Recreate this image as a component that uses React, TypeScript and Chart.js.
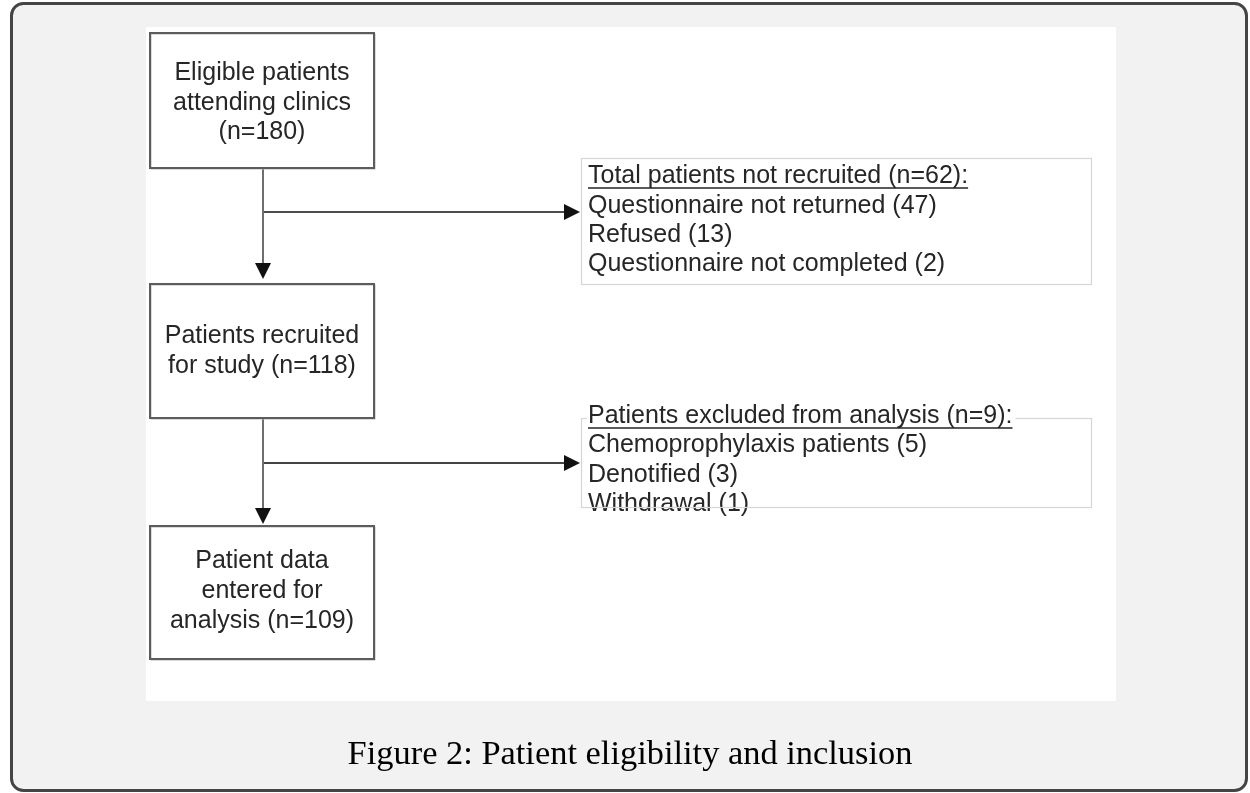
import React, { useEffect, useRef } from "react";
import { Chart, registerables } from "chart.js";

Chart.register(...registerables);

// ---------------- data ----------------
const stageLines: string[][] = [
  ["Eligible patients", "attending clinics", "(n={n})"],
  ["Patients recruited", "for study (n={n})"],
  ["Patient data", "entered for", "analysis (n={n})"],
];
const stageCounts = [180, 118, 109];
const exclusionTitles = ["Total patients not recruited", "Patients excluded from analysis"];
const exclusionTotals = [62, 9];
const notRecruitedReasons = ["Questionnaire not returned", "Refused", "Questionnaire not completed"];
const notRecruitedCounts = [47, 13, 2];
const excludedReasons = ["Chemoprophylaxis patients", "Denotified", "Withdrawal"];
const excludedCounts = [5, 3, 1];
const figureCaption = "Figure 2: Patient eligibility and inclusion";

// ---------------- layout (page units) ----------------
const W = 1250;
const H = 793;
const frame = { x0: 11.5, y0: 3.5, x1: 1246.5, y1: 790.5, r: 12 };
const panel = { x0: 146, y0: 27, x1: 1116, y1: 701 };
const stageBoxes = [
  { x0: 150, y0: 33, x1: 374, y1: 168, baselines: [80, 110, 139] },
  { x0: 150, y0: 284, x1: 374, y1: 418, baselines: [343, 373] },
  { x0: 150, y0: 526, x1: 374, y1: 659, baselines: [568, 598, 628] },
];
const sideBoxes = [
  { x0: 581, y0: 158, x1: 1091, y1: 284, textX: 588, baselines: [183, 213, 242, 271] },
  { x0: 581, y0: 418, x1: 1091, y1: 507, textX: 588, baselines: [423, 452, 482, 511] },
];
const spineX = 263;
const branchYs = [212, 463];
const downTips = [279, 524];
const rightTipX = 580;
const headLen = 16;
const headHalf = 8;
const caption = { cx: 630, baseline: 764, width: 565 };

const sideLines = [
  [`${exclusionTitles[0]} (n=${exclusionTotals[0]}):`, ...notRecruitedReasons.map((r, i) => `${r} (${notRecruitedCounts[i]})`)],
  [`${exclusionTitles[1]} (n=${exclusionTotals[1]}):`, ...excludedReasons.map((r, i) => `${r} (${excludedCounts[i]})`)],
];

const connectors = [
  { pts: [{ x: spineX, y: stageBoxes[0].y1 }, { x: spineX, y: downTips[0] - headLen + 1 }], color: "#6e6e6e", width: 2 },
  { pts: [{ x: spineX, y: branchYs[0] }, { x: rightTipX - headLen + 1, y: branchYs[0] }], color: "#111111", width: 1.6 },
  { pts: [{ x: spineX, y: stageBoxes[1].y1 }, { x: spineX, y: downTips[1] - headLen + 1 }], color: "#6e6e6e", width: 2 },
  { pts: [{ x: spineX, y: branchYs[1] }, { x: rightTipX - headLen + 1, y: branchYs[1] }], color: "#444444", width: 2 },
];

const TEXT_FONT = '25px "Liberation Sans", Arial, sans-serif';
const TEXT_COLOR = "#262626";

const flowPlugin = {
  id: "flow",
  beforeDraw(chart: any) {
    const { ctx, scales } = chart;
    const X = (v: number) => scales.x.getPixelForValue(v);
    const Y = (v: number) => scales.y.getPixelForValue(v);
    ctx.save();
    ctx.fillStyle = "#ffffff";
    ctx.fillRect(0, 0, chart.width, chart.height);
    ctx.beginPath();
    ctx.roundRect(X(frame.x0), Y(frame.y0), X(frame.x1) - X(frame.x0), Y(frame.y1) - Y(frame.y0), frame.r);
    ctx.fillStyle = "#f2f2f2";
    ctx.fill();
    ctx.lineWidth = 3;
    ctx.strokeStyle = "#454545";
    ctx.stroke();
    ctx.fillStyle = "#ffffff";
    ctx.fillRect(X(panel.x0), Y(panel.y0), X(panel.x1) - X(panel.x0), Y(panel.y1) - Y(panel.y0));
    ctx.restore();
  },
  afterDatasetsDraw(chart: any) {
    const { ctx, scales } = chart;
    const X = (v: number) => scales.x.getPixelForValue(v);
    const Y = (v: number) => scales.y.getPixelForValue(v);
    ctx.save();

    // arrowheads
    ctx.fillStyle = "#111111";
    downTips.forEach((t) => {
      ctx.beginPath();
      ctx.moveTo(X(spineX), Y(t));
      ctx.lineTo(X(spineX - headHalf), Y(t - headLen));
      ctx.lineTo(X(spineX + headHalf), Y(t - headLen));
      ctx.closePath();
      ctx.fill();
    });
    branchYs.forEach((b) => {
      ctx.beginPath();
      ctx.moveTo(X(rightTipX), Y(b));
      ctx.lineTo(X(rightTipX - headLen), Y(b - headHalf));
      ctx.lineTo(X(rightTipX - headLen), Y(b + headHalf));
      ctx.closePath();
      ctx.fill();
    });

    // stage boxes
    stageBoxes.forEach((bx, i) => {
      const x0 = X(bx.x0), y0 = Y(bx.y0), w = X(bx.x1) - x0, h = Y(bx.y1) - y0;
      ctx.fillStyle = "#ffffff";
      ctx.fillRect(x0, y0, w, h);
      ctx.lineWidth = 1;
      ctx.strokeStyle = "#b8b8b8";
      ctx.strokeRect(x0 + 1, y0 + 1, w, h);
      ctx.lineWidth = 2;
      ctx.strokeStyle = "#5c5c5c";
      ctx.strokeRect(x0, y0, w, h);
      ctx.font = TEXT_FONT;
      ctx.fillStyle = TEXT_COLOR;
      ctx.textAlign = "center";
      ctx.textBaseline = "alphabetic";
      const cx = X((bx.x0 + bx.x1) / 2);
      stageLines[i].forEach((ln, j) => {
        ctx.fillText(ln.replace("{n}", String(stageCounts[i])), cx, Y(bx.baselines[j]));
      });
    });

    // side boxes
    sideBoxes.forEach((bx, i) => {
      ctx.font = TEXT_FONT;
      ctx.textAlign = "left";
      ctx.textBaseline = "alphabetic";
      const hw = ctx.measureText(sideLines[i][0]).width;
      ctx.fillStyle = TEXT_COLOR;
      sideLines[i].forEach((ln, j) => {
        ctx.fillText(ln, X(bx.textX), Y(bx.baselines[j]));
      });
      // border drawn over the body text (as in the source image)
      ctx.lineWidth = 1.2;
      ctx.strokeStyle = "#d6d6d6";
      ctx.strokeRect(X(bx.x0) + 0.5, Y(bx.y0) + 0.5, X(bx.x1) - X(bx.x0), Y(bx.y1) - Y(bx.y0));
      // header sits on a white label background
      ctx.fillStyle = "#ffffff";
      ctx.fillRect(X(bx.textX) - 1, Y(bx.baselines[0] - 20), hw + 4, 27);
      ctx.fillStyle = TEXT_COLOR;
      ctx.fillText(sideLines[i][0], X(bx.textX), Y(bx.baselines[0]));
      ctx.beginPath();
      ctx.lineWidth = 1.6;
      ctx.strokeStyle = "#222222";
      ctx.moveTo(X(bx.textX), Y(bx.baselines[0] + 5));
      ctx.lineTo(X(bx.textX) + hw, Y(bx.baselines[0] + 5));
      ctx.stroke();
    });

    // caption
    const fam = '"Liberation Serif", "Times New Roman", serif';
    ctx.font = `30px ${fam}`;
    const mw = ctx.measureText(figureCaption).width;
    const size = (30 * caption.width) / mw;
    ctx.font = `${size.toFixed(2)}px ${fam}`;
    ctx.fillStyle = "#000000";
    ctx.textAlign = "center";
    ctx.textBaseline = "alphabetic";
    ctx.fillText(figureCaption, X(caption.cx), Y(caption.baseline));
    ctx.restore();
  },
};

export default function App() {
  const ref = useRef<HTMLCanvasElement>(null);
  useEffect(() => {
    if (!ref.current) return;
    const chart = new Chart(ref.current, {
      type: "scatter",
      data: {
        datasets: connectors.map((c) => ({
          data: c.pts,
          showLine: true,
          borderColor: c.color,
          borderWidth: c.width,
          pointRadius: 0,
          fill: false,
        })),
      },
      options: {
        responsive: false,
        maintainAspectRatio: false,
        animation: false,
        devicePixelRatio: 1,
        events: [],
        layout: { padding: 0 },
        plugins: { legend: { display: false }, tooltip: { enabled: false }, title: { display: false } },
        scales: {
          x: { type: "linear", min: 0, max: W, display: false },
          y: { type: "linear", min: 0, max: H, reverse: true, display: false },
        },
      },
      plugins: [flowPlugin],
    } as any);
    return () => chart.destroy();
  }, []);
  return (
    <div style={{ position: "fixed", left: 0, top: 0, width: W, height: H, background: "#fff" }}>
      <canvas ref={ref} width={W} height={H} style={{ display: "block", width: W, height: H }} />
    </div>
  );
}
